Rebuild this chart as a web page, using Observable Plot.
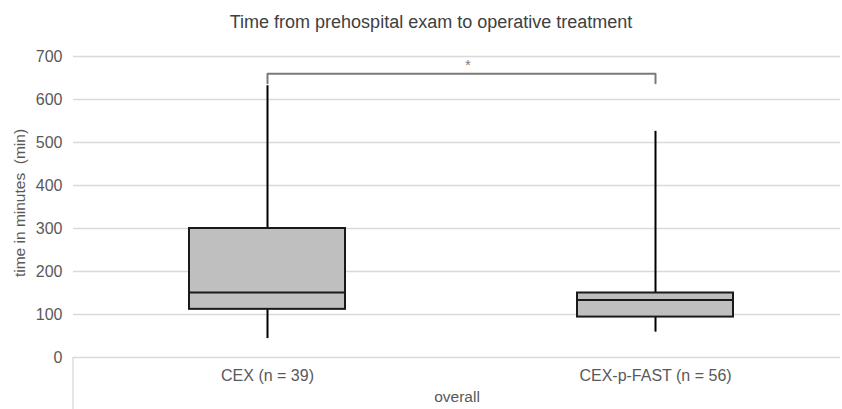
<!DOCTYPE html>
<html>
<head>
<meta charset="utf-8">
<script src="https://cdn.jsdelivr.net/npm/d3@7"></script>
<script src="https://cdn.jsdelivr.net/npm/@observablehq/plot@0.6"></script>
<style>
  html, body { margin: 0; padding: 0; background: #fff; }
  #chart svg { display: block; }
</style>
</head>
<body>
<div id="chart"></div>
<script>
// ---- data ----
const categories = ["CEX (n = 39)", "CEX-p-FAST (n = 56)"];
const minValues    = [44, 59];
const q1Values     = [112, 94];
const medianValues = [151, 134];
const q3Values     = [300, 150];
const maxValues    = [632, 526];
const yTicks = [0, 100, 200, 300, 400, 500, 600, 700];
// significance bracket between the two groups
const bracketTop = 660;
const bracketFoot = 638;
const bracketLabel = "*";
const titleText = "Time from prehospital exam to operative treatment";
const yLabelText = "time in minutes  (min)";
const xLabelText = "overall";

const boxes = categories.map((c, i) => ({
  cat: c, min: minValues[i], q1: q1Values[i], median: medianValues[i], q3: q3Values[i], max: maxValues[i]
}));
const bracket = [
  {cat: categories[0], v: bracketFoot},
  {cat: categories[0], v: bracketTop},
  {cat: categories[1], v: bracketTop},
  {cat: categories[1], v: bracketFoot}
];

const W = 842, H = 409;
const mL = 73, mR = 2, mT = 56, mB = 52;
const bandW = (849 - mL) / categories.length;
const boxInset = (bandW - 156) / 2;

const plot = Plot.plot({
  width: W,
  height: H,
  marginLeft: mL,
  marginRight: mR,
  marginTop: mT,
  marginBottom: mB,
  style: {fontFamily: "'Liberation Sans', Arial, sans-serif", fontSize: "16px", color: "#595959", background: "#fff"},
  x: {type: "band", domain: categories, range: [mL, 849], padding: 0, tickSize: 0, tickPadding: 12, label: null},
  y: {domain: [0, 700], ticks: yTicks, tickSize: 0, tickPadding: 11, label: null},
  marks: [
    Plot.ruleY(yTicks, {stroke: "#d9d9d9", strokeWidth: 1.3}),
    // whiskers
    Plot.ruleX(boxes, {x: "cat", y1: "min", y2: "q1", stroke: "#000", strokeWidth: 2}),
    Plot.ruleX(boxes, {x: "cat", y1: "q3", y2: "max", stroke: "#000", strokeWidth: 2}),
    // boxes
    Plot.barY(boxes, {x: "cat", y1: "q1", y2: "q3", fill: "#bfbfbf", stroke: "#1a1a1a", strokeWidth: 2, insetLeft: boxInset, insetRight: boxInset}),
    Plot.tickY(boxes, {x: "cat", y: "median", stroke: "#1a1a1a", strokeWidth: 2, insetLeft: boxInset, insetRight: boxInset}),
    // significance bracket
    Plot.line(bracket, {x: "cat", y: "v", stroke: "#7a7a7a", strokeWidth: 2}),
    Plot.text([bracketLabel], {text: d => d, y: [bracketTop], frameAnchor: "middle", dx: 11, dy: -8, fontSize: 14, fill: "#7a7a7a"}),
    // title and axis titles
    Plot.text([titleText], {text: d => d, frameAnchor: "top", dx: -26, dy: -41, fontSize: 18, fill: "#404040"}),
    Plot.text([yLabelText], {text: d => d, frameAnchor: "left", textAnchor: "middle", rotate: -90, dx: -53, dy: -4, fontSize: 15.5, fill: "#595959"}),
    Plot.text([xLabelText], {text: d => d, frameAnchor: "bottom", dy: 44, fontSize: 15.5, fill: "#595959"})
  ]
});

// category-axis divider at the left edge (below the zero line)
const ys = plot.scale("y");
const xs = plot.scale("x");
const yLin = d3.scaleLinear(ys.domain, ys.range);
d3.select(plot).append("line")
  .attr("x1", xs.range[0]).attr("x2", xs.range[0])
  .attr("y1", yLin(0)).attr("y2", H)
  .attr("stroke", "#d9d9d9").attr("stroke-width", 1.3);

document.getElementById("chart").appendChild(plot);
</script>
</body>
</html>
